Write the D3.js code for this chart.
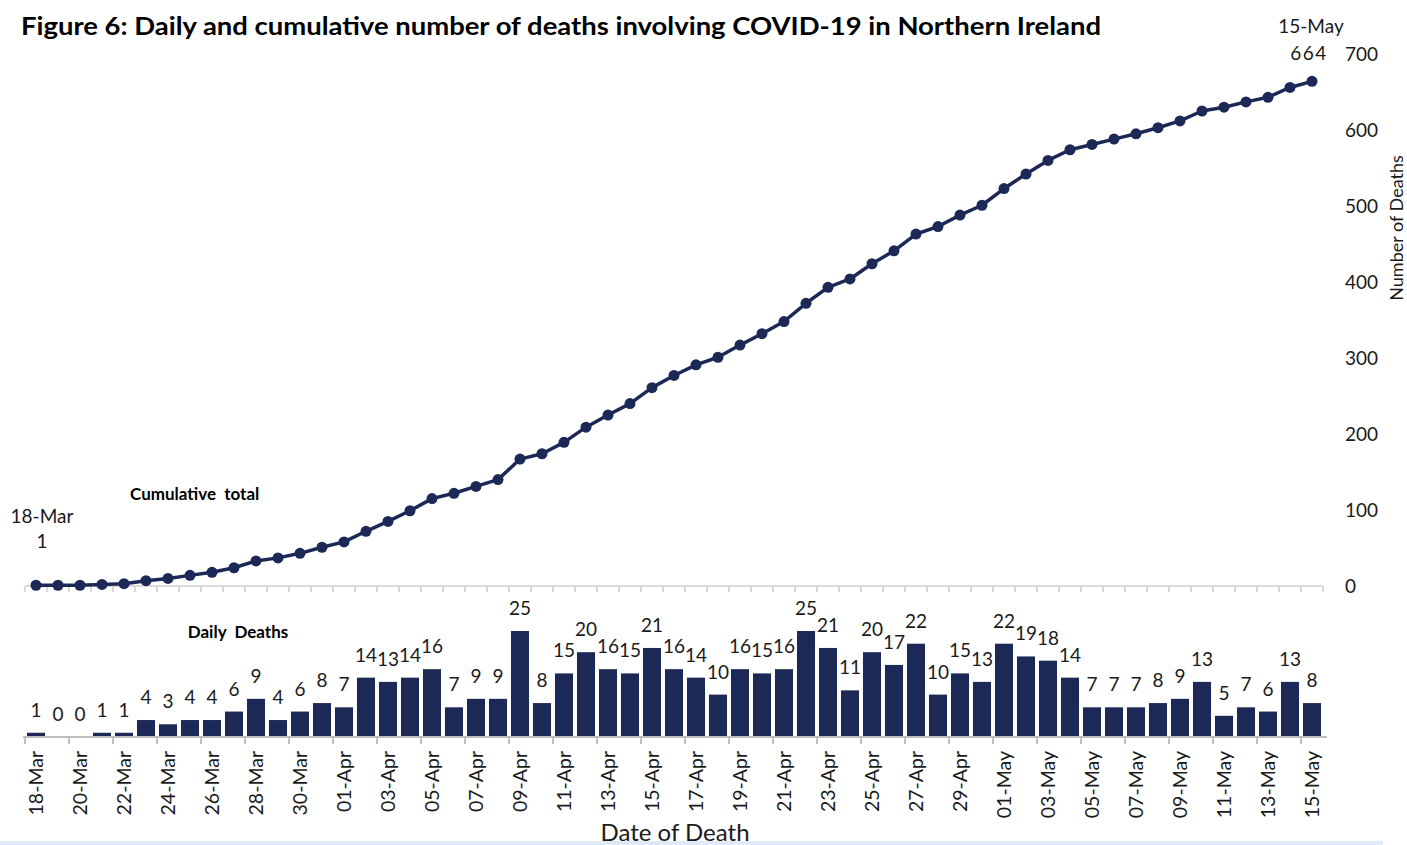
<!DOCTYPE html>
<html>
<head>
<meta charset="utf-8">
<script src="https://cdn.jsdelivr.net/npm/d3@7/dist/d3.min.js"></script>
<style>
  body { margin: 0; background: #fff; }
  text { font-family: Lato, "Open Sans", sans-serif; fill: #1a1a1a; }
</style>
</head>
<body>
<svg id="chart"></svg>
<script>
// dates of death, 18-Mar to 15-May
let dates = [
  "18-Mar","19-Mar","20-Mar","21-Mar","22-Mar","23-Mar","24-Mar","25-Mar","26-Mar","27-Mar","28-Mar","29-Mar","30-Mar","31-Mar",
  "01-Apr","02-Apr","03-Apr","04-Apr","05-Apr","06-Apr","07-Apr","08-Apr","09-Apr","10-Apr","11-Apr","12-Apr","13-Apr","14-Apr","15-Apr",
  "16-Apr","17-Apr","18-Apr","19-Apr","20-Apr","21-Apr","22-Apr","23-Apr","24-Apr","25-Apr","26-Apr","27-Apr","28-Apr","29-Apr","30-Apr",
  "01-May","02-May","03-May","04-May","05-May","06-May","07-May","08-May","09-May","10-May","11-May","12-May","13-May","14-May","15-May"
];

// daily deaths (bar labels)
let daily = [
  1,0,0,1,1,4,3,4,4,6,9,4,6,8,
  7,14,13,14,16,7,9,9,25,8,15,20,16,15,21,
  16,14,10,16,15,16,25,21,11,20,17,22,10,15,13,
  22,19,18,14,7,7,7,8,9,13,5,7,6,13,8
];

// cumulative total (line)
let cumulative = [
  1,1,1,2,3,7,10,14,18,24,33,37,43,51,
  58,72,85,99,115,122,131,140,167,174,189,209,225,240,261,
  277,291,301,317,332,348,372,393,404,424,441,463,473,488,501,
  523,542,560,574,581,588,595,603,612,625,630,637,643,656,664
];

let cumTicks = [0, 100, 200, 300, 400, 500, 600, 700];

let width = 1407;
let height = 845;
let navy = "#1c2957";

let svg = d3.select("#chart")
  .attr("width", width)
  .attr("height", height);

// x scale shared by both panels
let x = d3.scaleBand()
  .domain(dates)
  .range([25, 1323])
  .paddingInner(0.18)
  .paddingOuter(0.09);

let cx = d => x(d) + x.bandwidth() / 2;
let edge = i => x.range()[0] + i * x.step();

// y scales
let yCum = d3.scaleLinear().domain([0, 700]).range([586, 54]);
let yDay = d3.scaleLinear().domain([0, 25]).range([737, 631]);

// light band at the bottom
svg.append("rect")
  .attr("x", 0).attr("y", 841)
  .attr("width", 1383).attr("height", 4)
  .attr("fill", "#dfeaf6");

// title
svg.append("text")
  .attr("x", 21).attr("y", 35)
  .attr("font-size", 25)
  .attr("font-weight", "bold")
  .attr("textLength", 1080)
  .attr("lengthAdjust", "spacingAndGlyphs")
  .style("fill", "#000")
  .text("Figure 6: Daily and cumulative number of deaths involving COVID-19 in Northern Ireland");

// ---- upper panel: cumulative ----
let upper = svg.append("g");

upper.append("line")
  .attr("x1", x.range()[0]).attr("x2", x.range()[1])
  .attr("y1", yCum(0)).attr("y2", yCum(0))
  .attr("stroke", "#d9d9d9").attr("stroke-width", 2);

upper.selectAll(".utick")
  .data(d3.range(dates.length + 1))
  .join("line")
  .attr("class", "utick")
  .attr("x1", edge).attr("x2", edge)
  .attr("y1", yCum(0)).attr("y2", yCum(0) + 6)
  .attr("stroke", "#d9d9d9").attr("stroke-width", 2);

// right axis
let yAxis = d3.axisRight(yCum)
  .tickValues(cumTicks)
  .tickSize(0)
  .tickPadding(0);

let yAxisG = svg.append("g")
  .attr("transform", "translate(1345,0)")
  .call(yAxis);
yAxisG.select(".domain").remove();
yAxisG.selectAll("text")
  .attr("font-size", 19)
  .attr("font-family", "Lato, sans-serif")
  .style("fill", "#1a1a1a");

svg.append("text")
  .attr("transform", "translate(1403,228) rotate(-90)")
  .attr("text-anchor", "middle")
  .attr("font-size", 18)
  .text("Number of Deaths");

let line = d3.line()
  .x((d, i) => cx(dates[i]))
  .y(d => yCum(d));

upper.append("path")
  .attr("d", line(cumulative))
  .attr("fill", "none")
  .attr("stroke", navy)
  .attr("stroke-width", 3.5)
  .attr("stroke-linejoin", "round");

upper.selectAll(".dot")
  .data(cumulative)
  .join("circle")
  .attr("class", "dot")
  .attr("cx", (d, i) => cx(dates[i]))
  .attr("cy", d => yCum(d))
  .attr("r", 5.5)
  .attr("fill", navy);

// first and last labels
let last = dates.length - 1;
upper.append("text")
  .attr("x", cx(dates[0]) + 6).attr("y", 523)
  .attr("text-anchor", "middle").attr("font-size", 19)
  .text(dates[0]);
upper.append("text")
  .attr("x", cx(dates[0]) + 6).attr("y", 548)
  .attr("text-anchor", "middle").attr("font-size", 19)
  .text(cumulative[0]);
upper.append("text")
  .attr("x", cx(dates[last]) - 1).attr("y", 33)
  .attr("text-anchor", "middle").attr("font-size", 19)
  .text(dates[last]);
upper.append("text")
  .attr("x", cx(dates[last]) - 3).attr("y", 60)
  .attr("text-anchor", "middle").attr("font-size", 19)
  .attr("letter-spacing", 1.5)
  .text(cumulative[last]);

upper.append("text")
  .attr("x", 130).attr("y", 500)
  .attr("font-size", 17).attr("font-weight", "bold")
  .style("fill", "#000")
  .attr("xml:space", "preserve")
  .text("Cumulative  total");

// ---- lower panel: daily bars ----
let lower = svg.append("g");

lower.selectAll(".bar")
  .data(daily)
  .join("rect")
  .attr("class", "bar")
  .attr("x", (d, i) => x(dates[i]))
  .attr("width", x.bandwidth())
  .attr("y", d => yDay(d))
  .attr("height", d => yDay(0) - yDay(d))
  .attr("fill", navy);

lower.selectAll(".blabel")
  .data(daily)
  .join("text")
  .attr("class", "blabel")
  .attr("x", (d, i) => cx(dates[i]))
  .attr("y", d => yDay(d) - 16)
  .attr("text-anchor", "middle")
  .attr("font-size", 19)
  .text(d => d);

lower.append("line")
  .attr("x1", 23).attr("x2", 1327)
  .attr("y1", yDay(0)).attr("y2", yDay(0))
  .attr("stroke", "#bfbfbf").attr("stroke-width", 2);

let everyOther = d3.range(0, dates.length, 2);

lower.selectAll(".ltick")
  .data(everyOther)
  .join("line")
  .attr("class", "ltick")
  .attr("x1", edge).attr("x2", edge)
  .attr("y1", yDay(0)).attr("y2", yDay(0) + 7)
  .attr("stroke", "#bfbfbf").attr("stroke-width", 2);

lower.selectAll(".xlabel")
  .data(everyOther)
  .join("text")
  .attr("class", "xlabel")
  .attr("transform", i => `translate(${cx(dates[i])},751) rotate(-90)`)
  .attr("text-anchor", "end")
  .attr("dy", "0.36em")
  .attr("font-size", 19.5)
  .text(i => dates[i]);

lower.append("text")
  .attr("x", 238).attr("y", 638)
  .attr("text-anchor", "middle")
  .attr("font-size", 17).attr("font-weight", "bold")
  .style("fill", "#000")
  .attr("xml:space", "preserve")
  .text("Daily  Deaths");

svg.append("text")
  .attr("x", 675).attr("y", 841)
  .attr("text-anchor", "middle")
  .attr("font-size", 24)
  .text("Date of Death");
</script>
</body>
</html>
